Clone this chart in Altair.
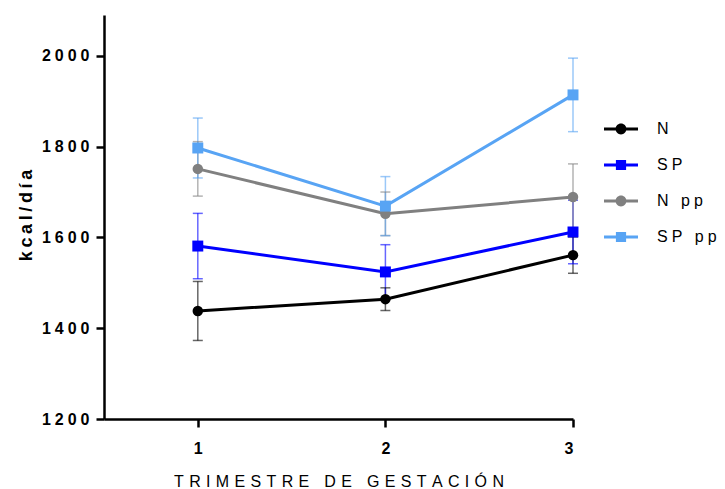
import altair as alt
import pandas as pd

# Energy intake (kcal/día) by trimester of gestation, mean ± SEM per group
trimestres = [1, 2, 3]
grupos = ["N", "SP", "N pp", "SP pp"]
media_N = [1438, 1464, 1561]
media_SP = [1581, 1524, 1612]
media_Npp = [1751, 1652, 1689]
media_SPpp = [1797, 1669, 1914]
sem_N = [65, 25, 40]
sem_SP = [72, 60, 70]
sem_Npp = [60, 48, 73]
sem_SPpp = [66, 65, 81]
marcadores = ["circle", "square", "circle", "square"]
colores = ["#000000", "#0000FF", "#808080", "#58A4F4"]
y_ticks = [1200, 1400, 1600, 1800, 2000]

medias = [media_N, media_SP, media_Npp, media_SPpp]
sems = [sem_N, sem_SP, sem_Npp, sem_SPpp]
rows = []
for g, mk, m, s in zip(grupos, marcadores, medias, sems):
    for t, v, e in zip(trimestres, m, s):
        rows.append({"trimestre": t, "grupo": g, "marcador": mk,
                     "kcal": v, "lo": v - e, "hi": v + e})
df = pd.DataFrame(rows)

FONT = "Liberation Sans"
SP4 = "\u2005"   # four-per-em space used as letter spacing in tick labels
SP3 = "\u2004"   # three-per-em space used as letter spacing in titles
SPACED = f"join(split(datum.label, ''), '{SP4}')"

# legend glyphs: a short line with the group's marker in the middle
LEG_CIRCLE = ("M-1,-0.09L1,-0.09L1,0.09L-1,0.09Z "
              "M0.32,0A0.32,0.32,0,1,1,-0.32,0A0.32,0.32,0,1,1,0.32,0Z")
LEG_SQUARE = ("M-1,-0.09L1,-0.09L1,0.09L-1,0.09Z "
              "M-0.3,-0.3L0.3,-0.3L0.3,0.3L-0.3,0.3Z")
leg_shapes = [LEG_CIRCLE, LEG_SQUARE, LEG_CIRCLE, LEG_SQUARE]

x_title = SP3.join("TRIMESTRE DE GESTACIÓN")
y_title = "\u2009".join("kcal/día")

x_enc = alt.X("trimestre:Q",
              scale=alt.Scale(domain=[0.5, 3], nice=False, zero=False),
              axis=alt.Axis(values=trimestres, format="d", title=x_title,
                            labelExpr=SPACED,
                            labelFont=FONT, labelFontSize=16, labelFontWeight="bold",
                            labelPadding=13, titleFont=FONT, titleFontSize=16,
                            titleFontWeight="normal", titleY=67,
                            titleBaseline="alphabetic"))
y_scale = alt.Scale(domain=[1200, 2090], nice=False, zero=False)
color_enc = alt.Color("grupo:N", scale=alt.Scale(domain=grupos, range=colores),
                      legend=None)

base = alt.Chart(df)

errbars = base.mark_rule(strokeWidth=1.5, opacity=0.6).encode(
    x=x_enc,
    y=alt.Y("lo:Q", scale=y_scale),
    y2="hi:Q",
    color=color_enc,
)
caps_lo = base.mark_tick(size=10, thickness=1.5, opacity=0.6, orient="horizontal").encode(
    x="trimestre:Q", y=alt.Y("lo:Q", scale=y_scale), color=color_enc)
caps_hi = base.mark_tick(size=10, thickness=1.5, opacity=0.6, orient="horizontal").encode(
    x="trimestre:Q", y=alt.Y("hi:Q", scale=y_scale), color=color_enc)

lines = base.mark_line(strokeWidth=3).encode(
    x="trimestre:Q",
    y=alt.Y("kcal:Q", scale=y_scale,
            axis=alt.Axis(values=y_ticks, format="d", title=y_title,
                          labelExpr=SPACED,
                          labelFont=FONT, labelFontSize=16, labelFontWeight="bold",
                          labelPadding=7, titleFont=FONT, titleFontSize=18,
                          titleFontWeight="bold", titleAngle=-90, titleX=-73,
                          titleY=200, titleAlign="center",
                          titleBaseline="alphabetic")),
    color=color_enc,
    detail="grupo:N",
)

circles = base.transform_filter(alt.datum.marcador == "circle").mark_point(
    shape="circle", filled=True, size=110, opacity=1).encode(
    x="trimestre:Q", y="kcal:Q", color=color_enc)
squares = base.transform_filter(alt.datum.marcador == "square").mark_point(
    shape="square", filled=True, size=120, opacity=1).encode(
    x="trimestre:Q", y="kcal:Q", color=color_enc)

legend = alt.Legend(
    title=None, orient="none", legendX=500, legendY=96,
    symbolSize=1156, symbolOpacity=1, symbolStrokeWidth=0,
    clipHeight=36, rowPadding=0, labelOffset=19, padding=0,
    labelFont=FONT, labelFontSize=16, labelFontWeight="normal",
    labelColor="black", labelExpr=SPACED,
)
legend_layer = base.mark_point(filled=True, opacity=0, size=1).encode(
    x="trimestre:Q", y="kcal:Q",
    color=alt.Color("grupo:N", scale=alt.Scale(domain=grupos, range=colores),
                    legend=legend),
    shape=alt.Shape("grupo:N", scale=alt.Scale(domain=grupos, range=leg_shapes),
                    legend=legend),
)

chart = alt.layer(
    errbars, caps_lo, caps_hi, lines, circles, squares, legend_layer
).resolve_scale(
    color="independent", shape="independent"
).resolve_legend(
    color="independent", shape="independent"
).properties(
    width=469, height=404,
    padding={"left": 104, "top": 15, "right": 152, "bottom": 70},
    autosize=alt.AutoSizeParams(type="none"),
    background="white",
).configure_view(stroke=None).configure_axis(
    grid=False, domainColor="black", domainWidth=2.5, tickColor="black",
    tickWidth=2.5, tickSize=8, labelColor="black", titleColor="black",
)

chart.save("out.html", embed_options={"renderer": "svg", "actions": False})
